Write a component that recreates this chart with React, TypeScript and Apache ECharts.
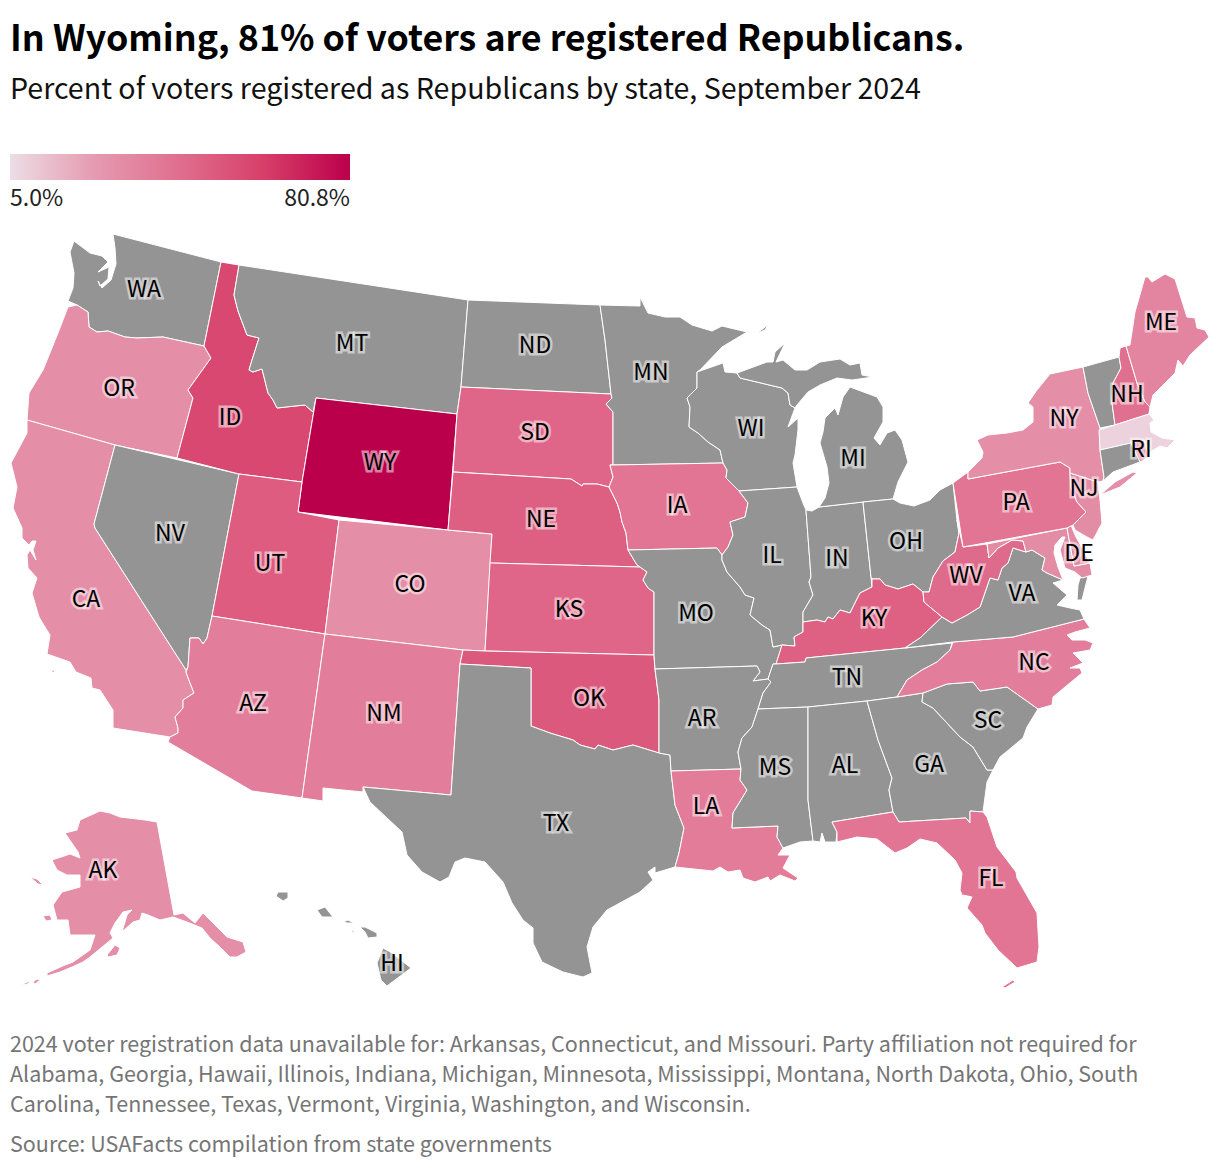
import React, { useEffect, useRef } from "react";
import * as echarts from "echarts";

const TITLE = "In Wyoming, 81% of voters are registered Republicans.";
const SUBTITLE = "Percent of voters registered as Republicans by state, September 2024";
const LEGEND_MIN = "5.0%";
const LEGEND_MAX = "80.8%";
const NOTE_LINES = [
  "2024 voter registration data unavailable for: Arkansas, Connecticut, and Missouri. Party affiliation not required for",
  "Alabama, Georgia, Hawaii, Illinois, Indiana, Michigan, Minnesota, Mississippi, Montana, North Dakota, Ohio, South",
  "Carolina, Tennessee, Texas, Vermont, Virginia, Washington, and Wisconsin.",
];
const SOURCE = "Source: USAFacts compilation from state governments";

const VALUE_MIN = 5;
const VALUE_MAX = 80.8;
const COLOR_STOPS = ["#eddde4", "#e59ab1", "#e06e8e", "#d73e68", "#bb004b"];
const NO_DATA_COLOR = "#949494";
const FONT = '"Noto Sans CJK SC", "Noto Sans", sans-serif';

const STATES_WITH_DATA = ["WY","ID","UT","NE","OK","KY","KS","SD","WV","NH","PA","FL","IA","LA","AZ","NM","NC","ME","OR","CA","CO","AK","NY","NJ","MD","DE","RI","MA"];
const STATE_VALUES = [80.8,58,50,49,51,48,46,46,44,42,40,40,40,37,36,36,36,33,29,29,29,29,29,30,30,31,29,8];
const UNLABELLED = ["VT", "CT", "MD", "MA"];

const LABEL_POINTS: Record<string, number[]> = {
  WA:[144,289],OR:[119,388],CA:[86,599],NV:[170,533],ID:[230,417],MT:[352,343],WY:[380,462],UT:[270,563],AZ:[253,703],CO:[410,584],NM:[384,713],
  ND:[535,345],SD:[535,432],NE:[541,519],KS:[569,609],OK:[589,698],TX:[556,823],MN:[651,372],IA:[677,505],MO:[696,613],AR:[702,718],LA:[706,806],
  WI:[751,428],IL:[772,555],MS:[775,767],AL:[845,765],TN:[847,677],KY:[874,618],IN:[837,558],MI:[853,458],OH:[906,541],GA:[929,764],SC:[988,720],
  FL:[991,878],NC:[1034,662],VA:[1022,593],WV:[966,575],PA:[1016,502],NY:[1064,418],NH:[1127,394],ME:[1161,322],RI:[1141,449],NJ:[1084,488],DE:[1079,553],
  AK:[103,870],HI:[392,963],VT:[1100,400],CT:[1120,458],MD:[1030,545],MA:[1125,432],
};

const SHAPES: Record<string, string[]> = {
  WA:["113,234 221,262 204,346 163,337 137,338 125,337 108,331 97,332 89,327 88,312 77,305 68,301 73,288 74,273 70,252 74,241 90,253 102,256 108,262 98,272 109,267 108,279 100,286 98,281 102,288 111,280 116,264 115,248"],
  OR:["204,346 211,358 188,390 193,398 177,458 115,445 27,420 29,393 43,370 58,333 68,307 77,305 88,312 89,327 97,332 108,331 125,337 137,338 163,337"],
  CA:["27,420 115,445 94,524 95,528 186,670 186,672 190,683 194,693 183,700 183,708 175,717 178,728 178,733 170,737 113,728 113,710 100,690 92,688 91,678 76,672 70,662 47,654 50,635 45,627 39,617 32,593 37,578 28,568 27,555 30,550 36,560 33,550 36,541 32,541 29,545 22,538 22,528 13,508 17,487 11,463 27,433","51,670 55,671 53,673"],
  NV:["115,445 239,474 212,616 207,638 203,644 199,638 190,638 188,667 186,670 95,528 94,524"],
  ID:["221,262 239,265 234,295 238,311 247,335 259,338 252,360 249,370 253,372 262,369 268,393 273,400 277,408 295,406 305,405 313,412 316,398 302,482 239,474 177,458 193,398 188,390 211,358 204,346"],
  MT:["239,265 468,300 461,387 457,414 316,398 313,412 305,405 295,406 277,408 273,400 268,393 262,369 253,372 249,370 252,360 259,338 247,335 238,311 234,295"],
  WY:["316,398 457,414 448,530 298,512 302,482"],
  UT:["239,474 302,482 298,512 339,520 325,634 212,616"],
  CO:["339,520 448,530 492,534 485,651 463,650 325,634"],
  AZ:["212,616 325,634 302,798 252,791 168,742 170,737 178,733 178,728 175,717 183,708 183,700 194,693 190,683 186,672 188,667 190,638 199,638 203,644 207,638"],
  NM:["325,634 463,650 460,664 451,795 363,787 363,792 323,788 323,801 302,798"],
  ND:["468,300 600,305 605,340 611,394 461,387"],
  SD:["461,387 611,394 612,398 606,404 613,412 613,465 610,465 613,477 609,487 597,484 583,484 582,486 571,479 453,472 457,414"],
  NE:["453,472 571,479 582,486 583,484 597,484 609,487 613,495 617,503 620,512 622,522 626,533 628,550 637,565 640,567 490,563 492,534 448,530"],
  KS:["490,563 640,567 647,572 643,580 648,588 654,592 654,655 485,651"],
  OK:["463,650 485,651 654,655 655,669 659,700 659,753 633,745 613,750 598,745 595,749 580,745 573,740 550,733 531,726 531,668 460,664"],
  TX:["460,664 531,668 531,726 550,733 573,740 580,745 595,749 598,745 613,750 633,745 659,753 670,755 671,771 675,805 684,828 679,853 675,867 655,873 655,867 648,872 653,880 640,892 607,910 593,927 587,947 592,973 583,977 563,972 542,962 533,943 533,928 523,920 512,903 503,882 485,862 465,858 455,862 449,877 440,882 422,872 407,855 402,832 387,818 370,802 363,787 451,795"],
  MN:["600,305 640,306 640,297 648,313 665,317 680,317 692,325 712,331 722,326 747,332 722,347 700,370 697,372 697,388 687,398 690,407 689,427 698,433 708,442 720,450 723,463 613,465 613,412 606,404 612,398 611,394 605,340"],
  IA:["613,465 723,463 727,470 726,478 735,487 739,491 748,503 745,517 730,522 733,535 728,547 722,555 717,548 628,550 626,533 622,522 620,512 617,503 613,495 609,487 613,477 610,465"],
  MO:["628,550 717,548 722,555 722,560 727,572 740,587 745,595 754,598 750,615 762,625 770,630 773,647 782,645 780,652 776,664 773,664 768,679 753,681 760,672 757,666 655,669 654,655 654,592 648,588 643,580 647,572 640,567 637,565"],
  AR:["655,669 757,666 760,672 753,681 768,679 771,682 763,693 758,709 752,727 742,738 738,752 741,769 671,771 670,755 659,753 659,700"],
  LA:["671,771 741,769 740,780 747,790 733,813 732,828 778,826 777,837 783,848 778,855 790,855 783,868 798,878 795,881 780,875 770,881 768,877 755,882 743,878 740,870 728,872 720,867 713,871 675,867 679,853 684,828 675,805"],
  WI:["697,372 723,363 725,372 737,373 740,378 782,388 788,393 790,405 795,408 788,427 798,418 798,430 795,455 793,463 797,487 739,491 735,487 726,478 727,470 723,463 720,450 708,442 698,433 689,427 690,407 687,398 697,388"],
  IL:["739,491 797,487 803,503 806,510 811,577 809,582 813,595 803,612 803,622 803,632 794,637 795,646 782,645 773,647 770,630 762,625 750,615 754,598 745,595 740,587 727,572 722,560 722,555 728,547 733,535 730,522 745,517 748,503"],
  IN:["806,510 812,511 819,507 863,502 871,577 872,587 860,593 850,613 840,610 833,619 828,617 825,622 817,620 803,622 803,612 813,595 809,582 811,577"],
  MI:["819,507 825,498 829,483 827,467 820,443 823,432 825,418 835,408 838,415 843,397 850,387 877,397 883,407 883,422 874,438 880,445 887,433 895,430 902,440 908,462 903,472 898,482 893,499 863,502","740,378 737,373 767,362 773,362 775,352 785,343 776,362 783,360 795,370 807,370 820,362 840,359 850,365 860,363 862,375 873,377 852,380 837,378 820,385 808,392 797,405 795,408 790,405 788,393 782,388","757,333 768,325 765,330"],
  OH:["863,502 893,499 900,503 914,506 930,500 940,490 953,483 957,520 959,533 955,552 943,561 933,577 929,592 923,592 913,584 898,589 885,585 880,579 872,579 871,577"],
  KY:["776,664 782,645 795,646 794,637 803,632 803,622 817,620 825,622 828,617 833,619 840,610 850,613 860,593 872,587 872,579 880,579 885,585 898,589 913,584 923,592 924,602 942,617 920,638 905,648 806,658 805,662"],
  TN:["776,664 805,662 806,658 905,648 952,643 950,650 937,662 922,670 907,680 897,697 867,701 808,707 758,709 763,693 771,682 768,679 773,664"],
  MS:["758,709 808,707 808,800 813,841 800,842 783,848 777,837 778,826 732,828 733,813 747,790 740,780 741,769 738,752 742,738 752,727"],
  AL:["808,707 867,701 878,740 892,778 889,790 893,812 832,822 837,832 836,842 825,842 822,833 820,842 813,841 808,800"],
  GA:["867,701 897,697 923,693 922,702 933,708 960,737 973,747 987,770 993,770 987,782 983,812 970,811 970,823 966,818 899,822 893,812 889,790 892,778 878,740"],
  FL:["832,822 893,812 899,822 966,818 970,823 970,811 983,812 987,817 997,847 1016,872 1017,878 1037,913 1039,947 1037,962 1017,968 998,950 985,933 982,925 967,908 972,897 963,895 965,902 960,890 962,873 955,860 937,843 920,839 907,848 895,853 877,839 857,837 837,842 837,832","1002,987 1013,980 1015,982 1005,988"],
  SC:["1038,709 1007,687 980,691 973,682 947,684 923,693 922,702 933,708 960,737 973,747 987,770 993,770 1000,757 1023,738 1027,727"],
  NC:["1084,619 1013,637 953,642 950,650 937,662 922,670 907,680 897,697 923,693 947,684 973,682 980,691 1007,687 1038,709 1052,705 1053,697 1082,673 1080,668 1070,668 1083,663 1073,653 1090,650 1093,643 1085,640 1072,640 1067,635 1075,632 1090,628"],
  VA:["1013,548 1026,552 1032,550 1045,558 1042,570 1047,573 1063,580 1053,583 1067,595 1057,605 1070,608 1080,610 1084,619 1013,637 953,642 905,648 920,638 942,617 952,623 967,615 980,607 990,578 998,580 1002,568 1008,563","1080,578 1088,576 1082,600 1077,600 1078,585"],
  WV:["957,520 963,547 987,544 989,558 998,548 1012,540 1023,541 1026,552 1013,548 1008,563 1002,568 998,580 990,578 980,607 967,615 952,623 942,617 924,602 923,592 929,592 933,577 943,561 955,552 959,533"],
  MD:["987,544 1067,528 1074,566 1090,563 1092,575 1082,578 1075,572 1065,568 1060,550 1065,537 1062,537 1055,545 1054,553 1058,567 1063,580 1047,573 1042,570 1045,558 1032,550 1026,552 1023,541 1012,540 998,548 989,558"],
  DE:["1067,528 1071,525 1075,535 1082,548 1090,563 1074,566"],
  PA:["953,483 968,472 968,479 1060,462 1070,468 1070,473 1071,488 1077,502 1086,512 1073,525 1067,528 963,547"],
  NJ:["1070,473 1098,482 1100,500 1102,523 1093,540 1087,537 1075,530 1073,525 1086,512 1077,502 1071,488"],
  NY:["968,479 968,472 982,458 983,452 977,440 988,435 1007,433 1023,430 1033,422 1033,407 1028,403 1037,390 1050,374 1083,367 1088,393 1100,428 1100,450 1104,477 1103,481 1098,482 1070,473 1070,468 1060,462","1100,495 1115,482 1133,472 1137,473 1120,487"],
  VT:["1083,367 1119,357 1121,368 1113,383 1112,403 1115,425 1100,428 1088,393"],
  NH:["1120,348 1126,346 1137,383 1145,402 1150,407 1149,414 1115,425 1112,403 1113,383 1121,368 1119,357"],
  ME:["1126,346 1130,345 1135,312 1145,277 1148,277 1152,282 1165,274 1175,279 1187,317 1195,318 1197,328 1205,330 1209,337 1190,355 1183,366 1178,360 1175,373 1163,385 1153,395 1150,407 1145,402 1137,383"],
  MA:["1099,430 1149,414 1154,420 1150,423 1151,432 1162,438 1175,440 1167,448 1160,446 1150,452 1149,457 1144,440 1131,443 1100,450","1158,458 1165,453 1160,457"],
  RI:["1131,443 1144,440 1149,457 1140,462"],
  CT:["1100,450 1131,443 1140,462 1113,472 1103,481 1104,477"],
  AK:["157,822 174,915 183,913 195,923 203,913 213,923 227,937 243,942 246,952 237,957 230,957 220,947 210,938 202,928 187,922 173,917 160,920 148,915 142,913 140,920 133,922 122,932 127,915 132,910 123,912 115,923 110,933 113,938 107,943 90,957 83,962 72,967 60,972 47,976 47,973 65,965 73,962 90,950 95,935 82,935 70,935 68,920 57,920 53,905 62,892 80,887 80,875 67,875 57,870 52,860 70,854 80,858 78,852 65,833 77,830 80,820 100,811 110,813 120,817 145,820","43,916 50,915 52,920 46,921","30,877 37,879 43,885 38,884","107,955 115,945 120,948 117,955 108,957","33,982 37,979 40,980 35,984","20,985 30,981 28,984"],
  HI:["276,896 278,892 288,892 288,898 283,901","317,910 325,907 333,917 322,917","343,922 348,920 354,923 347,923","350,930 355,932 353,933","360,927 365,927 377,933 377,937 368,938 365,932","383,948 392,953 411,968 387,986 381,980 377,963"],
};

function parseRing(ring: string): number[][] {
  const pts = ring.trim().split(/\s+/).map((p) => p.split(",").map(Number));
  return [...pts, pts[0]];
}

function buildGeoJson() {
  let minX = Infinity, minY = Infinity, maxX = -Infinity, maxY = -Infinity;
  const features = Object.keys(SHAPES).map((name) => {
    const rings = SHAPES[name].map(parseRing);
    rings.forEach((r) => r.forEach(([x, y]) => {
      minX = Math.min(minX, x); minY = Math.min(minY, y);
      maxX = Math.max(maxX, x); maxY = Math.max(maxY, y);
    }));
    return {
      type: "Feature",
      properties: { name, cp: LABEL_POINTS[name] },
      geometry: { type: "MultiPolygon", coordinates: rings.map((r) => [r]) },
    };
  });
  return { geo: { type: "FeatureCollection", features }, box: { minX, minY, maxX, maxY } };
}

function text(t: string, x: number, y: number, size: number, color: string, weight = 400, align = "left") {
  return { type: "text", x, y, silent: true, style: { text: t, fill: color, font: `${weight} ${size}px ${FONT}`, textAlign: align, textVerticalAlign: "middle" } };
}

export default function App() {
  const ref = useRef<HTMLDivElement>(null);
  useEffect(() => {
    const chart = echarts.init(ref.current!, undefined, { renderer: "svg" });
    const { geo, box } = buildGeoJson();
    echarts.registerMap("usa", geo as any);
    const data: any[] = STATES_WITH_DATA.map((name, i) => ({ name, value: STATE_VALUES[i] }));
    const labelOff = (name: string) => UNLABELLED.includes(name);
    const dataOut = data.map((d) => (labelOff(d.name) ? { ...d, label: { show: false } } : d));
    UNLABELLED.filter((n) => !STATES_WITH_DATA.includes(n)).forEach((name) => dataOut.push({ name, value: NaN, label: { show: false } }));
    const gradient = new echarts.graphic.LinearGradient(0, 0, 1, 0,
      COLOR_STOPS.map((color, i) => ({ offset: i / (COLOR_STOPS.length - 1), color })));
    chart.setOption({
      animation: false,
      backgroundColor: "#fff",
      visualMap: {
        show: false, type: "continuous", min: VALUE_MIN, max: VALUE_MAX, calculable: false,
        inRange: { color: COLOR_STOPS }, outOfRange: { color: NO_DATA_COLOR }, seriesIndex: 0,
      },
      series: [{
        type: "map", map: "usa", silent: true, selectedMode: false,
        projection: { project: (p: number[]) => p, unproject: (p: number[]) => p },
        left: box.minX, top: box.minY, width: box.maxX - box.minX, height: box.maxY - box.minY,
        itemStyle: { areaColor: NO_DATA_COLOR, borderColor: "#fff", borderWidth: 1 },
        label: { show: true, formatter: "{b}", fontFamily: FONT, fontSize: 23, color: "#000", offset: [0, -2], textBorderColor: "rgba(255,255,255,0.5)", textBorderWidth: 5 },
        emphasis: { disabled: true },
        data: dataOut,
      }],
      graphic: [
        text(TITLE, 10, 35, 35.8, "#000", 700),
        text(SUBTITLE, 10, 86, 28.6, "#111"),
        { type: "rect", silent: true, shape: { x: 10, y: 154, width: 340, height: 26 }, style: { fill: gradient } },
        text(LEGEND_MIN, 10, 196, 23, "#222"),
        text(LEGEND_MAX, 350, 196, 23, "#222", 400, "right"),
        ...NOTE_LINES.map((l, i) => text(l, 10, 1042 + i * 30.2, 21.5, "#757575")),
        text(SOURCE, 10, 1142, 21.5, "#757575"),
      ],
    });
    return () => chart.dispose();
  }, []);
  return <div ref={ref} style={{ position: "absolute", left: 0, top: 0, width: 1220, height: 1170 }} />;
}
